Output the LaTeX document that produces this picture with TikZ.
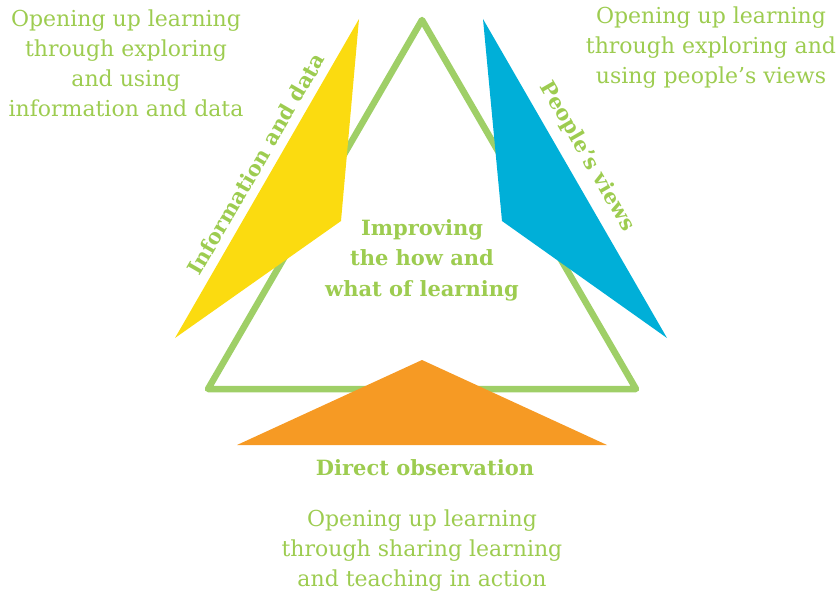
\documentclass[tikz,border=0pt]{standalone}
\usepackage{fontspec}
\setmainfont{DejaVu Serif}
\definecolor{txtgreen}{HTML}{9DCC50}
\definecolor{linegreen}{HTML}{9FCF67}
\definecolor{myyellow}{HTML}{FBDB10}
\definecolor{myblue}{HTML}{00AFD8}
\definecolor{myorange}{HTML}{F69A24}
\tikzset{
  plain/.style={text=txtgreen, align=center, font=\fontsize{22}{30}\selectfont, inner sep=0pt},
  boldlbl/.style={text=txtgreen, align=center, font=\fontsize{21}{30.5}\selectfont\bfseries, inner sep=0pt},
}
\begin{document}
\begin{tikzpicture}[x=1pt,y=-1pt]
\useasboundingbox (0,0) rectangle (838,594);
% green triangle
\draw[linegreen, line width=6.5pt, line join=round] (422,20) -- (636,389) -- (208,389) -- cycle;
% shapes
\fill[myyellow] (359,19) -- (341,221) -- (175,338) -- cycle;
\fill[myblue] (483,19) -- (502,221) -- (667,338) -- cycle;
\fill[myorange] (422,360) -- (607,445) -- (237,445) -- cycle;
% texts
\node[plain] (tl) at (126,63) {Opening up learning\\through exploring\\and using\\information and data};
\node[plain] (tr) at (711,48) {Opening up learning\\through exploring and\\using people’s views};
\node[plain] (bt) at (422,551) {Opening up learning\\through sharing learning\\and teaching in action};
\node[boldlbl] (ct) at (422,260) {Improving\\the how and\\what of learning};
\node[boldlbl] (dob) at (425,468) {Direct observation};
\node[boldlbl, rotate=60] (inf) at (256,164) {Information and data};
\node[boldlbl, rotate=-60] (pv) at (587,157) {People’s views};
\end{tikzpicture}
\end{document}
